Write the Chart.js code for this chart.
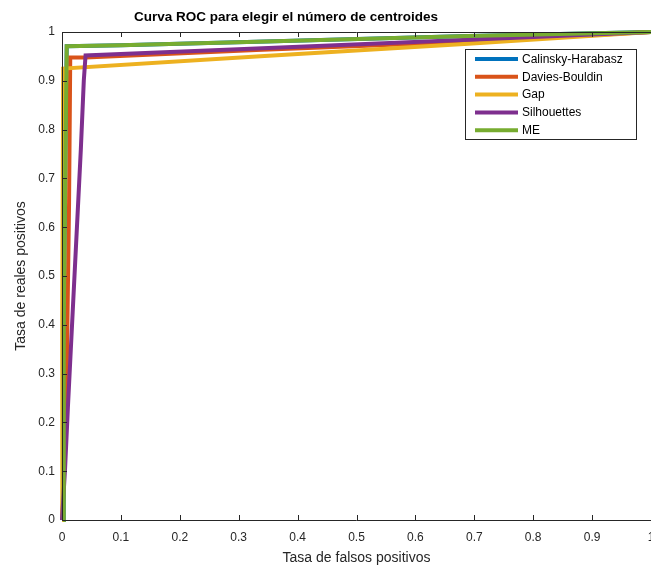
<!DOCTYPE html>
<html>
<head>
<meta charset="utf-8">
<script src="https://cdn.jsdelivr.net/npm/chart.js@4"></script>
<style>
html,body{margin:0;padding:0;background:#fff;}
#wrap{width:651px;height:568px;position:relative;}
</style>
</head>
<body>
<div id="wrap"><canvas id="c" width="651" height="568"></canvas></div>
<script>
// ---- data ----
const seriesNames = ["Calinsky-Harabasz", "Davies-Bouldin", "Gap", "Silhouettes", "ME"];
const chFpr  = [0.002, 0.003, 0.006, 0.008, 0.1, 0.33, 0.69, 1];
const chTpr  = [0, 0.4, 0.76, 0.971, 0.973, 0.98, 0.992, 1];
const dbFpr  = [0, 0.005, 0.008, 0.012, 0.014, 0.04, 0.33, 0.69, 1];
const dbTpr  = [0, 0.15, 0.3, 0.65, 0.948, 0.948, 0.963, 0.98, 1];
const gapFpr = [0, 0, 0.001, 0.002, 0.33, 0.69, 1];
const gapTpr = [0, 0.42, 0.42, 0.925, 0.95, 0.976, 1];
const silFpr = [0, 0.005, 0.01, 0.032, 0.037, 0.04, 0.33, 0.69, 1];
const silTpr = [0, 0.1, 0.23, 0.76, 0.9, 0.952, 0.966, 0.984, 1];
const meFpr  = [0.002, 0.003, 0.006, 0.008, 0.1, 0.33, 0.69, 1];
const meTpr  = [0, 0.4, 0.76, 0.971, 0.973, 0.98, 0.992, 1];
const tickValues = [0, 0.1, 0.2, 0.3, 0.4, 0.5, 0.6, 0.7, 0.8, 0.9, 1];
const tickLabels = ["0", "0.1", "0.2", "0.3", "0.4", "0.5", "0.6", "0.7", "0.8", "0.9", "1"];
const titleText = "Curva ROC para elegir el número de centroides";
const xTitle = "Tasa de falsos positivos";
const yTitle = "Tasa de reales positivos";

const colors = ["#0072BD", "#D95319", "#EDB120", "#7E2F8E", "#77AC30"];
const xs = [chFpr, dbFpr, gapFpr, silFpr, meFpr];
const ys = [chTpr, dbTpr, gapTpr, silTpr, meTpr];

const FONT = "'Liberation Sans', Arial, Helvetica, sans-serif";
const AX = "#262626";

const datasets = seriesNames.map((n, i) => ({
  label: n,
  data: xs[i].map((x, k) => ({x: x, y: ys[i][k]})),
  borderColor: colors[i],
  backgroundColor: colors[i],
  borderWidth: 4,
  pointRadius: 0,
  tension: 0,
  fill: false,
  order: 5 - i,
  clip: 3
}));

const decor = {
  id: 'decor',
  afterDraw(chart) {
    const ctx = chart.ctx;
    const a = chart.chartArea;
    const sx = chart.scales.x, sy = chart.scales.y;
    ctx.save();
    // box lines
    ctx.strokeStyle = AX;
    ctx.lineWidth = 1;
    ctx.beginPath();
    ctx.moveTo(a.left + 0.5, a.top);
    ctx.lineTo(a.left + 0.5, a.bottom);
    ctx.moveTo(a.left, a.bottom + 0.5);
    ctx.lineTo(a.right, a.bottom + 0.5);
    ctx.moveTo(a.left, a.top + 0.5);
    ctx.lineTo(a.right, a.top + 0.5);
    ctx.stroke();
    // inward ticks
    ctx.beginPath();
    tickValues.forEach(v => {
      const px = Math.round(sx.getPixelForValue(v)) + 0.5;
      ctx.moveTo(px, a.bottom); ctx.lineTo(px, a.bottom - 5);
      ctx.moveTo(px, a.top); ctx.lineTo(px, a.top + 5);
      const py = Math.round(sy.getPixelForValue(v)) + 0.5;
      ctx.moveTo(a.left, py); ctx.lineTo(a.left + 5, py);
    });
    ctx.stroke();
    // title
    ctx.fillStyle = "#000";
    ctx.font = "bold 13.5px " + FONT;
    ctx.textAlign = "center";
    ctx.textBaseline = "middle";
    ctx.fillText(titleText, 286, 17);
    // axis titles
    ctx.fillStyle = AX;
    ctx.font = "14px " + FONT;
    ctx.fillText(xTitle, (a.left + a.right) / 2, 558);
    ctx.save();
    ctx.translate(21, (a.top + a.bottom) / 2);
    ctx.rotate(-Math.PI / 2);
    ctx.fillText(yTitle, 0, 0);
    ctx.restore();
    // legend box
    const L = 465.5, T = 49.5, R = 636.5, B = 139.5;
    ctx.fillStyle = "#fff";
    ctx.fillRect(L, T, R - L, B - T);
    ctx.strokeStyle = AX;
    ctx.lineWidth = 1;
    ctx.strokeRect(L, T, R - L, B - T);
    ctx.font = "12px " + FONT;
    ctx.textAlign = "left";
    ctx.textBaseline = "middle";
    chart.data.datasets.forEach((ds, i) => {
      const yy = 59 + i * 17.8;
      ctx.strokeStyle = ds.borderColor;
      ctx.lineWidth = 4;
      ctx.beginPath();
      ctx.moveTo(475, yy); ctx.lineTo(518, yy);
      ctx.stroke();
      ctx.fillStyle = "#000";
      ctx.fillText(ds.label, 522, yy + 0.5);
    });
    ctx.restore();
  }
};

new Chart(document.getElementById('c'), {
  type: 'line',
  data: { datasets: datasets },
  options: {
    responsive: false,
    animation: false,
    layout: { padding: { top: 32, right: 0, left: 0, bottom: 0 } },
    plugins: { legend: { display: false }, title: { display: false }, tooltip: { enabled: false } },
    scales: {
      x: {
        type: 'linear', min: 0, max: 1,
        afterFit(s) { s.height = 48; s.paddingRight = 0; s.paddingLeft = 0; },
        afterBuildTicks(s) { s.ticks = tickValues.map(v => ({value: v})); },
        grid: { display: false, drawTicks: false },
        border: { display: false },
        ticks: {
          padding: 10, color: AX, font: { family: FONT, size: 12 },
          maxRotation: 0, autoSkip: false,
          callback: (v, i) => tickLabels[i]
        }
      },
      y: {
        type: 'linear', min: 0, max: 1,
        afterFit(s) { s.width = 62; s.paddingTop = 0; s.paddingBottom = 0; },
        afterBuildTicks(s) { s.ticks = tickValues.map(v => ({value: v})); },
        grid: { display: false, drawTicks: false },
        border: { display: false },
        ticks: {
          padding: 7, color: AX, font: { family: FONT, size: 12 },
          autoSkip: false,
          callback: (v, i) => tickLabels[i]
        }
      }
    }
  },
  plugins: [decor]
});
</script>
</body>
</html>
